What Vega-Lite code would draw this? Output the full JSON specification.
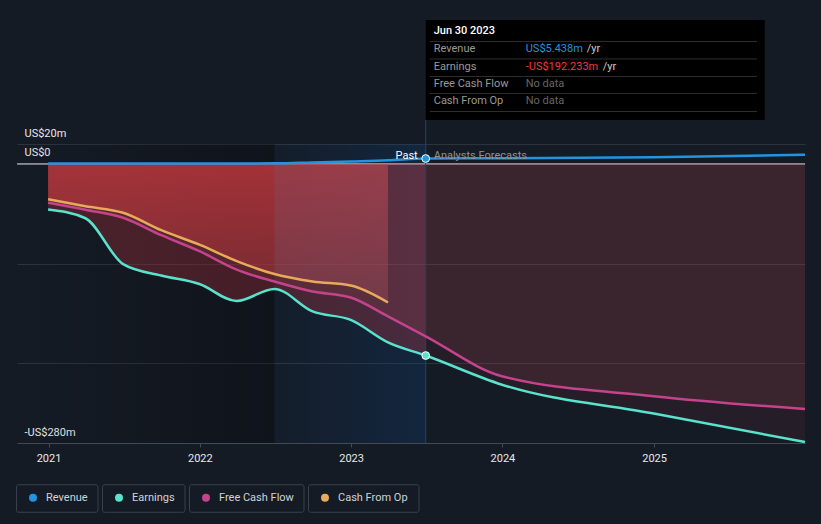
{
  "$schema": "https://vega.github.io/schema/vega-lite/v6.json",
  "width": 788,
  "height": 299,
  "autosize": {"type": "none"},
  "padding": {"left": 17, "top": 144, "right": 16, "bottom": 81},
  "background": "#151b25",
  "config": {
    "view": {"stroke": null},
    "font": "Roboto",
    "axis": {"labelFont": "Roboto", "labelFontSize": 11, "labelColor": "#e8e8e8", "labelFlush": false},
    "axisX": {"domainColor": "#434955", "tickColor": "#434955", "tickSize": 4, "labelPadding": 5, "grid": false},
    "axisY": {"grid": true, "gridColor": "#2d333d", "ticks": false, "tickSize": 0, "domain": false, "labelAlign": "left", "labelBaseline": "alphabetic", "labelPadding": -7, "labelOffset": -8}
  },
  "data": {
    "values": [
      {"date": "2020-12-31", "series": "Revenue", "value": 0.5},
      {"date": "2021-03-31", "series": "Revenue", "value": 0.5},
      {"date": "2021-06-30", "series": "Revenue", "value": 0.5},
      {"date": "2021-09-30", "series": "Revenue", "value": 0.5},
      {"date": "2021-12-31", "series": "Revenue", "value": 0.5},
      {"date": "2022-03-31", "series": "Revenue", "value": 0.5},
      {"date": "2022-06-30", "series": "Revenue", "value": 0.6},
      {"date": "2022-09-30", "series": "Revenue", "value": 1.5},
      {"date": "2022-12-31", "series": "Revenue", "value": 2.5},
      {"date": "2023-03-31", "series": "Revenue", "value": 3.6},
      {"date": "2023-06-30", "series": "Revenue", "value": 5.438},
      {"date": "2023-12-31", "series": "Revenue", "value": 5.7},
      {"date": "2024-12-31", "series": "Revenue", "value": 6.8},
      {"date": "2025-12-31", "series": "Revenue", "value": 9.2},
      {"date": "2020-12-31", "series": "Earnings", "value": -45.8},
      {"date": "2021-03-31", "series": "Earnings", "value": -54.5},
      {"date": "2021-06-30", "series": "Earnings", "value": -100.5},
      {"date": "2021-09-30", "series": "Earnings", "value": -112},
      {"date": "2021-12-31", "series": "Earnings", "value": -120.5},
      {"date": "2022-03-31", "series": "Earnings", "value": -137.5},
      {"date": "2022-06-30", "series": "Earnings", "value": -125.5},
      {"date": "2022-09-30", "series": "Earnings", "value": -148},
      {"date": "2022-12-31", "series": "Earnings", "value": -156.5},
      {"date": "2023-03-31", "series": "Earnings", "value": -179},
      {"date": "2023-06-30", "series": "Earnings", "value": -192.233},
      {"date": "2023-12-31", "series": "Earnings", "value": -221.5},
      {"date": "2024-12-31", "series": "Earnings", "value": -250.5},
      {"date": "2025-12-31", "series": "Earnings", "value": -279},
      {"date": "2020-12-31", "series": "Free Cash Flow", "value": -39},
      {"date": "2021-03-31", "series": "Free Cash Flow", "value": -46},
      {"date": "2021-06-30", "series": "Free Cash Flow", "value": -54},
      {"date": "2021-09-30", "series": "Free Cash Flow", "value": -71.5},
      {"date": "2021-12-31", "series": "Free Cash Flow", "value": -87.5},
      {"date": "2022-03-31", "series": "Free Cash Flow", "value": -106},
      {"date": "2022-06-30", "series": "Free Cash Flow", "value": -118},
      {"date": "2022-09-30", "series": "Free Cash Flow", "value": -128},
      {"date": "2022-12-31", "series": "Free Cash Flow", "value": -134},
      {"date": "2023-03-31", "series": "Free Cash Flow", "value": -153},
      {"date": "2023-06-30", "series": "Free Cash Flow", "value": -173},
      {"date": "2023-12-31", "series": "Free Cash Flow", "value": -213},
      {"date": "2024-12-31", "series": "Free Cash Flow", "value": -233},
      {"date": "2025-12-31", "series": "Free Cash Flow", "value": -246},
      {"date": "2020-12-31", "series": "Cash From Op", "value": -35.5},
      {"date": "2021-03-31", "series": "Cash From Op", "value": -42.5},
      {"date": "2021-06-30", "series": "Cash From Op", "value": -49},
      {"date": "2021-09-30", "series": "Cash From Op", "value": -66.5},
      {"date": "2021-12-31", "series": "Cash From Op", "value": -81},
      {"date": "2022-03-31", "series": "Cash From Op", "value": -97.5},
      {"date": "2022-06-30", "series": "Cash From Op", "value": -110.5},
      {"date": "2022-09-30", "series": "Cash From Op", "value": -118},
      {"date": "2022-12-31", "series": "Cash From Op", "value": -122},
      {"date": "2023-03-31", "series": "Cash From Op", "value": -139}
    ],
    "format": {"parse": {"date": "date:'%Y-%m-%d'"}}
  },
  "layer": [
    {
      "data": {"values": [{}]},
      "mark": {"type": "rect", "fill": {"gradient": "linear", "x1": 0, "y1": 0, "x2": 1, "y2": 0, "stops": [{"offset": 0, "color": "rgba(0,0,0,0)"}, {"offset": 1, "color": "rgba(0,0,0,0.27)"}]}},
      "encoding": {
        "x": {"datum": {"year": 2020, "month": 10, "date": 17}, "type": "temporal", "scale": {"domain": [{"year": 2020, "month": 10, "date": 17}, {"year": 2025, "month": 12, "date": 31}]}},
        "x2": {"datum": {"year": 2022, "month": 6, "date": 30}},
        "y": {"datum": 20, "type": "quantitative", "scale": {"domain": [-280, 20], "nice": false, "zero": false}},
        "y2": {"datum": -280}
      }
    },
    {
      "data": {"values": [{}]},
      "mark": {"type": "rect", "fill": {"gradient": "linear", "x1": 0, "y1": 0, "x2": 1, "y2": 0, "stops": [{"offset": 0, "color": "rgba(10,70,130,0.05)"}, {"offset": 1, "color": "rgba(10,70,130,0.27)"}]}},
      "encoding": {
        "x": {"datum": {"year": 2022, "month": 6, "date": 30}, "type": "temporal"},
        "x2": {"datum": {"year": 2023, "month": 6, "date": 30}},
        "y": {"datum": 20, "type": "quantitative"},
        "y2": {"datum": -280}
      }
    },
    {
      "data": {"values": [{}]},
      "mark": {"type": "rule", "color": "#dcdcdc", "strokeWidth": 1},
      "encoding": {"y": {"datum": 0, "type": "quantitative"}}
    },
    {
      "transform": [{"filter": {"field": "series", "equal": "Earnings"}}, {"filter": {"field": "date", "lte": {"year": 2023, "month": 7, "date": 1}}}],
      "mark": {"type": "area", "interpolate": "monotone", "color": "#e63c46", "opacity": 0.25},
      "encoding": {
        "x": {"field": "date", "type": "temporal", "title": null},
        "y": {"field": "value", "type": "quantitative", "title": null},
        "y2": {"datum": 0}
      }
    },
    {
      "transform": [{"filter": {"field": "series", "equal": "Earnings"}}, {"filter": {"field": "date", "gte": {"year": 2023, "month": 6, "date": 29}}}],
      "mark": {"type": "area", "interpolate": "monotone", "color": "#e63c46", "opacity": 0.08},
      "encoding": {
        "x": {"field": "date", "type": "temporal", "title": null},
        "y": {"field": "value", "type": "quantitative", "title": null},
        "y2": {"datum": 0}
      }
    },
    {
      "transform": [{"filter": {"field": "series", "equal": "Free Cash Flow"}}],
      "mark": {"type": "area", "interpolate": "monotone", "color": "#d85a5e", "opacity": 0.12},
      "encoding": {
        "x": {"field": "date", "type": "temporal", "title": null},
        "y": {"field": "value", "type": "quantitative", "title": null},
        "y2": {"datum": 0}
      }
    },
    {
      "transform": [{"filter": {"field": "series", "equal": "Cash From Op"}}],
      "mark": {"type": "area", "interpolate": "monotone", "fill": {"gradient": "linear", "x1": 0, "y1": 0, "x2": 0, "y2": 1, "stops": [{"offset": 0, "color": "rgba(225,60,65,0.55)"}, {"offset": 1, "color": "rgba(225,60,65,0.22)"}]}},
      "encoding": {
        "x": {"field": "date", "type": "temporal", "title": null},
        "y": {"field": "value", "type": "quantitative", "title": null},
        "y2": {"datum": 0}
      }
    },
    {
      "transform": [{"filter": {"field": "series", "equal": "Cash From Op"}}, {"filter": {"field": "date", "gte": {"year": 2022, "month": 6, "date": 29}}}],
      "mark": {"type": "area", "interpolate": "monotone", "color": "#6a6078", "opacity": 0.2},
      "encoding": {
        "x": {"field": "date", "type": "temporal", "title": null},
        "y": {"field": "value", "type": "quantitative", "title": null},
        "y2": {"datum": 0}
      }
    },
    {
      "data": {"values": [{}]},
      "mark": {"type": "rule", "color": "#1f4563", "strokeWidth": 1},
      "encoding": {
        "x": {"datum": {"year": 2023, "month": 6, "date": 30}, "type": "temporal"},
        "y": {"datum": 44.1, "type": "quantitative"},
        "y2": {"datum": -280}
      }
    },
    {
      "mark": {"type": "line", "interpolate": "monotone", "strokeWidth": 2.5},
      "encoding": {
        "x": {"field": "date", "type": "temporal", "title": null, "axis": {"format": "%Y", "values": [{"year": 2021, "month": 1, "date": 1}, {"year": 2022, "month": 1, "date": 1}, {"year": 2023, "month": 1, "date": 1}, {"year": 2024, "month": 1, "date": 1}, {"year": 2025, "month": 1, "date": 1}]}},
        "y": {"field": "value", "type": "quantitative", "title": null, "axis": {"values": [20, 0, -100, -200, -280], "labelExpr": "datum.value == 20 ? 'US$20m' : datum.value == 0 ? 'US$0' : datum.value == -280 ? '-US$280m' : ''"}},
        "color": {
          "field": "series", "type": "nominal",
          "scale": {"domain": ["Revenue", "Earnings", "Free Cash Flow", "Cash From Op"], "range": ["#2394df", "#5ae2cc", "#c4438c", "#e8aa5a"]},
          "legend": {
            "title": null, "orient": "none", "legendX": -1, "legendY": 340, "direction": "horizontal", "padding": 0, "columnPadding": 3,
            "symbolType": "circle", "symbolSize": 64, "symbolStrokeWidth": 0, "symbolOffset": 11.5, "labelOffset": 7.5,
            "labelFont": "Roboto", "labelFontSize": 11, "labelColor": "#cfd3d9", "clipHeight": 27,
            "encode": {
              "symbols": {"update": {"fill": {"scale": "color", "field": "value"}, "opacity": {"value": 1}}},
              "entries": {"update": {"stroke": {"value": "#3b414c"}, "strokeWidth": {"value": 1}, "cornerRadius": {"value": 2}, "width": {"signal": "[81,82,114,110][datum.index]"}, "height": {"value": 27}}}
            }
          }
        }
      }
    },
    {
      "transform": [{"filter": {"field": "series", "equal": "Revenue"}}, {"filter": {"field": "date", "range": [{"year": 2023, "month": 6, "date": 29}, {"year": 2023, "month": 7, "date": 1}]}}],
      "mark": {"type": "point", "filled": true, "size": 60, "color": "#2394df", "stroke": "#ffffff", "strokeWidth": 1, "opacity": 1},
      "encoding": {
        "x": {"field": "date", "type": "temporal", "title": null},
        "y": {"field": "value", "type": "quantitative", "title": null}
      }
    },
    {
      "transform": [{"filter": {"field": "series", "equal": "Earnings"}}, {"filter": {"field": "date", "range": [{"year": 2023, "month": 6, "date": 29}, {"year": 2023, "month": 7, "date": 1}]}}],
      "mark": {"type": "point", "filled": true, "size": 60, "color": "#5ae2cc", "stroke": "#ffffff", "strokeWidth": 1, "opacity": 1},
      "encoding": {
        "x": {"field": "date", "type": "temporal", "title": null},
        "y": {"field": "value", "type": "quantitative", "title": null}
      }
    },
    {
      "data": {"values": [{}]},
      "mark": {"type": "text", "text": "Past", "align": "right", "baseline": "middle", "dx": -8, "fontSize": 11, "color": "#ffffff"},
      "encoding": {"x": {"datum": {"year": 2023, "month": 6, "date": 30}, "type": "temporal"}, "y": {"datum": 8, "type": "quantitative"}}
    },
    {
      "data": {"values": [{}]},
      "mark": {"type": "text", "text": "Analysts Forecasts", "align": "left", "baseline": "middle", "dx": 8, "fontSize": 11, "color": "#8e9196"},
      "encoding": {"x": {"datum": {"year": 2023, "month": 6, "date": 30}, "type": "temporal"}, "y": {"datum": 8, "type": "quantitative"}}
    },
    {
      "data": {"values": [{}]},
      "mark": {"type": "rect", "fill": "#000000"},
      "encoding": {
        "x": {"datum": {"year": 2023, "month": 6, "date": 30}, "type": "temporal"},
        "x2": {"datum": {"year": 2025, "month": 9, "date": 25}},
        "y": {"datum": 144.4, "type": "quantitative"},
        "y2": {"datum": 44.1}
      }
    },
    {
      "data": {"values": [{}]},
      "mark": {"type": "rule", "color": "#2e2e2e", "strokeWidth": 1},
      "encoding": {"x": {"datum": {"year": 2023, "month": 7, "date": 10}, "type": "temporal"}, "x2": {"datum": {"year": 2025, "month": 9, "date": 6}}, "y": {"datum": 122.8, "type": "quantitative"}}
    },
    {
      "data": {"values": [{}]},
      "mark": {"type": "rule", "color": "#2e2e2e", "strokeWidth": 1},
      "encoding": {"x": {"datum": {"year": 2023, "month": 7, "date": 10}, "type": "temporal"}, "x2": {"datum": {"year": 2025, "month": 9, "date": 6}}, "y": {"datum": 105.3, "type": "quantitative"}}
    },
    {
      "data": {"values": [{}]},
      "mark": {"type": "rule", "color": "#2e2e2e", "strokeWidth": 1},
      "encoding": {"x": {"datum": {"year": 2023, "month": 7, "date": 10}, "type": "temporal"}, "x2": {"datum": {"year": 2025, "month": 9, "date": 6}}, "y": {"datum": 87.7, "type": "quantitative"}}
    },
    {
      "data": {"values": [{}]},
      "mark": {"type": "rule", "color": "#2e2e2e", "strokeWidth": 1},
      "encoding": {"x": {"datum": {"year": 2023, "month": 7, "date": 10}, "type": "temporal"}, "x2": {"datum": {"year": 2025, "month": 9, "date": 6}}, "y": {"datum": 70.7, "type": "quantitative"}}
    },
    {
      "data": {"values": [{}]},
      "mark": {"type": "rule", "color": "#2e2e2e", "strokeWidth": 1},
      "encoding": {"x": {"datum": {"year": 2023, "month": 7, "date": 10}, "type": "temporal"}, "x2": {"datum": {"year": 2025, "month": 9, "date": 6}}, "y": {"datum": 52.6, "type": "quantitative"}}
    },
    {
      "data": {"values": [{}]},
      "mark": {"type": "text", "text": "Jun 30 2023", "align": "left", "baseline": "middle", "dx": 8, "fontSize": 11, "fontWeight": 500, "color": "#ffffff"},
      "encoding": {"x": {"datum": {"year": 2023, "month": 6, "date": 30}, "type": "temporal"}, "y": {"datum": 133.4, "type": "quantitative"}}
    },
    {
      "data": {"values": [{}]},
      "mark": {"type": "text", "text": "Revenue", "align": "left", "baseline": "middle", "dx": 8, "fontSize": 11, "color": "#999999"},
      "encoding": {"x": {"datum": {"year": 2023, "month": 6, "date": 30}, "type": "temporal"}, "y": {"datum": 115.0, "type": "quantitative"}}
    },
    {
      "data": {"values": [{}]},
      "mark": {"type": "text", "text": "Earnings", "align": "left", "baseline": "middle", "dx": 8, "fontSize": 11, "color": "#999999"},
      "encoding": {"x": {"datum": {"year": 2023, "month": 6, "date": 30}, "type": "temporal"}, "y": {"datum": 97.6, "type": "quantitative"}}
    },
    {
      "data": {"values": [{}]},
      "mark": {"type": "text", "text": "Free Cash Flow", "align": "left", "baseline": "middle", "dx": 8, "fontSize": 11, "color": "#999999"},
      "encoding": {"x": {"datum": {"year": 2023, "month": 6, "date": 30}, "type": "temporal"}, "y": {"datum": 80.0, "type": "quantitative"}}
    },
    {
      "data": {"values": [{}]},
      "mark": {"type": "text", "text": "Cash From Op", "align": "left", "baseline": "middle", "dx": 8, "fontSize": 11, "color": "#999999"},
      "encoding": {"x": {"datum": {"year": 2023, "month": 6, "date": 30}, "type": "temporal"}, "y": {"datum": 63.1, "type": "quantitative"}}
    },
    {
      "data": {"values": [{}]},
      "mark": {"type": "text", "text": "US$5.438m", "align": "left", "baseline": "middle", "dx": 100, "fontSize": 11, "color": "#2394df"},
      "encoding": {"x": {"datum": {"year": 2023, "month": 6, "date": 30}, "type": "temporal"}, "y": {"datum": 115.0, "type": "quantitative"}}
    },
    {
      "data": {"values": [{}]},
      "mark": {"type": "text", "text": "/yr", "align": "left", "baseline": "middle", "dx": 161, "fontSize": 11, "color": "#cccccc"},
      "encoding": {"x": {"datum": {"year": 2023, "month": 6, "date": 30}, "type": "temporal"}, "y": {"datum": 115.0, "type": "quantitative"}}
    },
    {
      "data": {"values": [{}]},
      "mark": {"type": "text", "text": "-US$192.233m", "align": "left", "baseline": "middle", "dx": 100, "fontSize": 11, "color": "#ee3b3b"},
      "encoding": {"x": {"datum": {"year": 2023, "month": 6, "date": 30}, "type": "temporal"}, "y": {"datum": 97.6, "type": "quantitative"}}
    },
    {
      "data": {"values": [{}]},
      "mark": {"type": "text", "text": "/yr", "align": "left", "baseline": "middle", "dx": 177, "fontSize": 11, "color": "#cccccc"},
      "encoding": {"x": {"datum": {"year": 2023, "month": 6, "date": 30}, "type": "temporal"}, "y": {"datum": 97.6, "type": "quantitative"}}
    },
    {
      "data": {"values": [{}]},
      "mark": {"type": "text", "text": "No data", "align": "left", "baseline": "middle", "dx": 100, "fontSize": 11, "color": "#666666"},
      "encoding": {"x": {"datum": {"year": 2023, "month": 6, "date": 30}, "type": "temporal"}, "y": {"datum": 80.0, "type": "quantitative"}}
    },
    {
      "data": {"values": [{}]},
      "mark": {"type": "text", "text": "No data", "align": "left", "baseline": "middle", "dx": 100, "fontSize": 11, "color": "#666666"},
      "encoding": {"x": {"datum": {"year": 2023, "month": 6, "date": 30}, "type": "temporal"}, "y": {"datum": 63.1, "type": "quantitative"}}
    }
  ]
}
